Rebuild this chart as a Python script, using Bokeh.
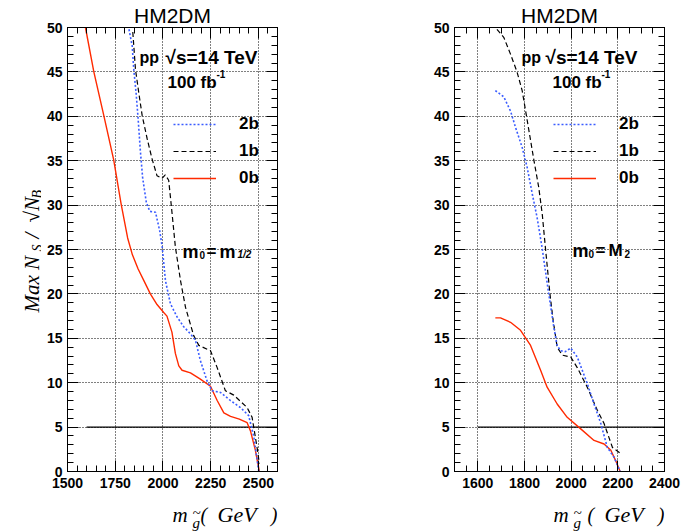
import math
from bokeh.plotting import figure
from bokeh.models import (Range1d, LinearAxis, SingleIntervalTicker, Label, Legend,
                          LegendItem, Grid, Title)
from bokeh.layouts import row, column
from bokeh.embed import file_html
from bokeh.resources import INLINE

# ---------------- data ----------------
title_text = "HM2DM"
series_names = ["2b", "1b", "0b"]

# left panel: m0 = m1/2
L_x_2b = [1822, 1839, 1847, 1859, 1870, 1882, 1894, 1913, 1931, 1961, 1983, 1996, 2013, 2039, 2074, 2109, 2144, 2170, 2196, 2231, 2257, 2301, 2353, 2406, 2449, 2476, 2502]
L_y_2b = [49.8, 47.9, 45.3, 42.7, 39.7, 36.0, 33.0, 30.3, 29.3, 29.2, 27.1, 25.3, 21.5, 18.9, 17.4, 16.3, 15.5, 14.8, 12.5, 10.2, 9.1, 8.9, 8.0, 7.2, 6.3, 3.9, 0.0]
L_x_1b = [1842, 1856, 1873, 1891, 1917, 1943, 1969, 1995, 2012, 2030, 2043, 2065, 2092, 2118, 2161, 2188, 2249, 2284, 2327, 2371, 2441, 2467, 2493, 2505]
L_y_1b = [49.5, 45.3, 42.7, 40.1, 37.5, 35.2, 33.3, 33.0, 33.4, 32.8, 30.1, 25.3, 21.5, 18.5, 15.3, 14.2, 13.6, 11.7, 9.1, 8.6, 7.2, 6.1, 2.7, 0.9]
L_x_0b = [1594, 1638, 1690, 1742, 1781, 1815, 1840, 1870, 1900, 1934, 1969, 2004, 2021, 2047, 2065, 2083, 2100, 2144, 2196, 2249, 2284, 2319, 2354, 2400, 2441, 2458, 2484, 2505]
L_y_0b = [50.0, 45.0, 40.1, 35.1, 30.1, 26.3, 24.4, 22.8, 21.5, 20.0, 18.8, 17.9, 17.5, 15.7, 13.3, 11.9, 11.4, 11.1, 10.4, 9.6, 8.0, 6.6, 6.2, 5.9, 5.5, 4.6, 2.4, 0.0]

# right panel: m0 = M2
R_x_2b = [1675, 1711, 1740, 1761, 1790, 1811, 1833, 1854, 1876, 1883, 1904, 1926, 1940, 1955, 1975, 1998, 2026, 2069, 2098, 2127, 2155, 2184, 2210]
R_y_2b = [42.9, 42.2, 40.6, 38.8, 36.5, 34.3, 31.3, 28.6, 25.1, 23.8, 20.0, 16.2, 14.2, 13.6, 13.5, 13.9, 12.9, 9.9, 7.6, 5.4, 2.7, 1.6, 0.0]
R_x_1b = [1682, 1711, 1740, 1768, 1790, 1808, 1826, 1840, 1861, 1876, 1890, 1909, 1923, 1940, 1962, 1998, 2026, 2069, 2112, 2141, 2177, 2213]
R_y_1b = [49.8, 48.9, 47.0, 45.0, 42.9, 40.1, 37.3, 35.1, 32.0, 29.0, 25.1, 20.0, 17.0, 14.0, 13.1, 12.9, 11.7, 9.5, 6.9, 5.4, 2.7, 2.0]
R_x_0b = [1675, 1697, 1740, 1783, 1826, 1869, 1897, 1940, 1983, 2041, 2098, 2141, 2170, 2191, 2210]
R_y_0b = [17.3, 17.3, 16.8, 15.9, 14.2, 11.4, 9.5, 7.6, 6.1, 4.8, 3.5, 3.1, 2.4, 1.2, 0.0]

threshold = 5
threshold_start = 1600
L_xrange = (1500, 2600)
R_xrange = (1500, 2400)
y_range = (0, 50)

# ---------------- styles ----------------
SANS = "Liberation Sans"
SERIF = "Liberation Serif"
COL = {"2b": "#3a5cff", "1b": "#000000", "0b": "#ff2a00"}
DASH = {"2b": "2 2", "1b": "5 3", "0b": "solid"}
WID = {"2b": 1.6, "1b": 1.2, "0b": 1.4}

PAGE_H = 531
FRAME_W, FRAME_H = 210, 444
TOP = 27
FRAME_BOTTOM = TOP + FRAME_H      # 471 (page px)
MAIN_H = 504                      # main figures end here; label strips below
XLAB_H = PAGE_H - MAIN_H
YLAB_W = 41


def style_axis(ax, ticker, labels=True):
    ax.ticker = ticker
    ax.axis_line_color = "black"
    ax.axis_line_width = 1
    ax.major_tick_in = 11
    ax.major_tick_out = 0
    ax.minor_tick_in = 6
    ax.minor_tick_out = 0
    ax.major_tick_line_color = "black"
    ax.minor_tick_line_color = "black"
    if labels:
        ax.major_label_text_font = SANS
        ax.major_label_text_font_style = "bold"
        ax.major_label_text_font_size = "14px"
        ax.major_label_text_color = "black"
    else:
        ax.major_label_text_color = None
        ax.major_label_text_font_size = "1px"
        ax.major_label_standoff = 0


def strip(fw, fh, bl=0, br=0, bt=0, bb=0):
    s = figure(frame_width=fw, frame_height=fh, x_range=Range1d(0, fw), y_range=Range1d(0, fh),
               min_border=0, min_border_left=bl, min_border_right=br,
               min_border_top=bt, min_border_bottom=bb,
               output_backend="svg", toolbar_location=None,
               x_axis_type=None, y_axis_type=None)
    s.outline_line_color = None
    s.background_fill_color = "white"
    s.border_fill_color = "white"
    return s


def slab(s, text, sx, sy, size, font=SERIF, style="italic", align="left", angle=0.0):
    s.add_layout(Label(x=sx, y=sy, x_units="screen", y_units="screen", text=text,
                       text_font=font, text_font_style=style, text_font_size=size,
                       text_align=align, text_baseline="alphabetic", angle=angle,
                       text_color="black"))


def make_panel(xs, ys, xrange, page_x0, border_left, border_right, xinterval, xminor, texts):
    frame_left_px = page_x0 + border_left
    p = figure(frame_width=FRAME_W, frame_height=FRAME_H,
               min_border_left=border_left, min_border_right=border_right,
               min_border_top=TOP, min_border_bottom=MAIN_H - FRAME_BOTTOM,
               x_range=Range1d(*xrange), y_range=Range1d(*y_range),
               output_backend="svg", toolbar_location=None,
               x_axis_type=None, y_axis_type=None)
    p.outline_line_color = "black"
    p.background_fill_color = "white"
    p.border_fill_color = "white"
    p.title = Title(text=title_text, align="center", text_font=SANS,
                    text_font_style="normal", text_font_size="21px",
                    text_color="black", standoff=1)

    xb = LinearAxis(); style_axis(xb, SingleIntervalTicker(interval=xinterval, num_minor_ticks=xminor)); xb.major_label_standoff = 6
    yl = LinearAxis(); style_axis(yl, SingleIntervalTicker(interval=5, num_minor_ticks=5)); yl.major_label_standoff = 5
    xa = LinearAxis(); style_axis(xa, SingleIntervalTicker(interval=xinterval, num_minor_ticks=xminor), labels=False)
    yr = LinearAxis(); style_axis(yr, SingleIntervalTicker(interval=5, num_minor_ticks=5), labels=False)
    p.add_layout(xb, "below")
    p.add_layout(yl, "left")
    p.add_layout(xa, "above")
    p.add_layout(yr, "right")

    p.add_layout(Grid(dimension=0, ticker=xb.ticker, grid_line_color="black",
                      grid_line_dash="1 2", grid_line_width=1))
    p.add_layout(Grid(dimension=1, ticker=yl.ticker, grid_line_color="black",
                      grid_line_dash="1 2", grid_line_width=1))

    p.line([threshold_start, xrange[1]], [threshold, threshold], line_color="black", line_width=1.2)

    renderers = {}
    for name in ["0b", "1b", "2b"]:
        renderers[name] = p.line(xs[name], ys[name], line_color=COL[name],
                                 line_dash=DASH[name], line_width=WID[name])

    legend = Legend(items=[LegendItem(label=n, renderers=[renderers[n]]) for n in series_names],
                    location=(texts["legend_x"] - frame_left_px, FRAME_BOTTOM - 188),
                    glyph_width=43, glyph_height=20, label_height=20,
                    label_standoff=23, spacing=7, padding=0, margin=0,
                    border_line_alpha=0, background_fill_alpha=0,
                    label_text_font=SANS, label_text_font_style="bold",
                    label_text_font_size="17px", label_text_color="black")
    p.add_layout(legend, "center")

    for t in texts["items"]:
        text, px, py, size = t[:4]
        style = t[4] if len(t) > 4 else "bold"
        p.add_layout(Label(x=px - frame_left_px, y=FRAME_BOTTOM - py, x_units="screen",
                           y_units="screen", text=text, text_font=SANS,
                           text_font_style=style, text_font_size=size,
                           text_align="left", text_baseline="alphabetic", text_color="black"))

    # x-axis label strip below the main figure (frame aligned with the plot frame)
    s = strip(FRAME_W, XLAB_H, bl=border_left, br=border_right)
    mx = texts["m_x"] - frame_left_px
    base = XLAB_H - (514 - MAIN_H)
    slab(s, "m", mx, base, "21px")
    slab(s, "g", mx + 20, XLAB_H - (522 - MAIN_H), "15px")
    slab(s, "~", mx + 20, XLAB_H - (512 - MAIN_H), "15px")
    slab(s, "(", FRAME_W - 77, base, "20px")
    slab(s, "GeV", FRAME_W - 60, base, "22px")
    slab(s, ")", FRAME_W, base, "20px", align="right")
    return column(p, s)


left_texts = {
    "legend_x": 173,
    "m_x": 172,
    "items": [
        ("pp", 139, 57, "16px"),
        ("\u221as=14 TeV", 165, 57, "19px"),
        ("100 fb", 167, 82, "17px"),
        ("-1", 216, 73, "10px"),
        ("m", 182, 251, "18px"),
        ("0", 199, 254, "10px"),
        ("=", 206, 251, "17px"),
        ("m", 219, 251, "18px"),
        ("1/2", 237, 254, "10px", "bold italic"),
    ],
}
right_texts = {
    "legend_x": 553,
    "m_x": 553,
    "items": [
        ("pp", 521, 57, "16px"),
        ("\u221as=14 TeV", 545, 57, "19px"),
        ("100 fb", 552, 82, "17px"),
        ("-1", 601, 73, "10px"),
        ("m", 572, 250, "18px"),
        ("0", 588, 253, "10px"),
        ("=", 595, 250, "17px"),
        ("M", 608, 250, "17px"),
        ("2", 624, 253, "10px"),
    ],
}

colL = make_panel({"2b": L_x_2b, "1b": L_x_1b, "0b": L_x_0b},
                  {"2b": L_y_2b, "1b": L_y_1b, "0b": L_y_0b},
                  L_xrange, YLAB_W, 67 - YLAB_W, 63, 250, 5, left_texts)
colR = make_panel({"2b": R_x_2b, "1b": R_x_1b, "0b": R_x_0b},
                  {"2b": R_y_2b, "1b": R_y_1b, "0b": R_y_0b},
                  R_xrange, 340, 114, 19, 200, 4, right_texts)

# y-axis label strip (rotated, composed pieces); frame aligned with the plot frames
ys_ = strip(YLAB_W, FRAME_H, bt=TOP, bb=PAGE_H - FRAME_BOTTOM)
A = math.pi / 2
slab(ys_, "Max N", 31, FRAME_BOTTOM - 312, "21px", angle=A)
slab(ys_, "S", 37, FRAME_BOTTOM - 251, "14px", angle=A)
slab(ys_, "/", 31, FRAME_BOTTOM - 238, "21px", angle=A)
slab(ys_, "\u221aN", 31, FRAME_BOTTOM - 222, "21px", angle=A)
slab(ys_, "B", 37, FRAME_BOTTOM - 198, "14px", angle=A)

layout = row(ys_, colL, colR)
open("out.html", "w").write(file_html(layout, INLINE))
